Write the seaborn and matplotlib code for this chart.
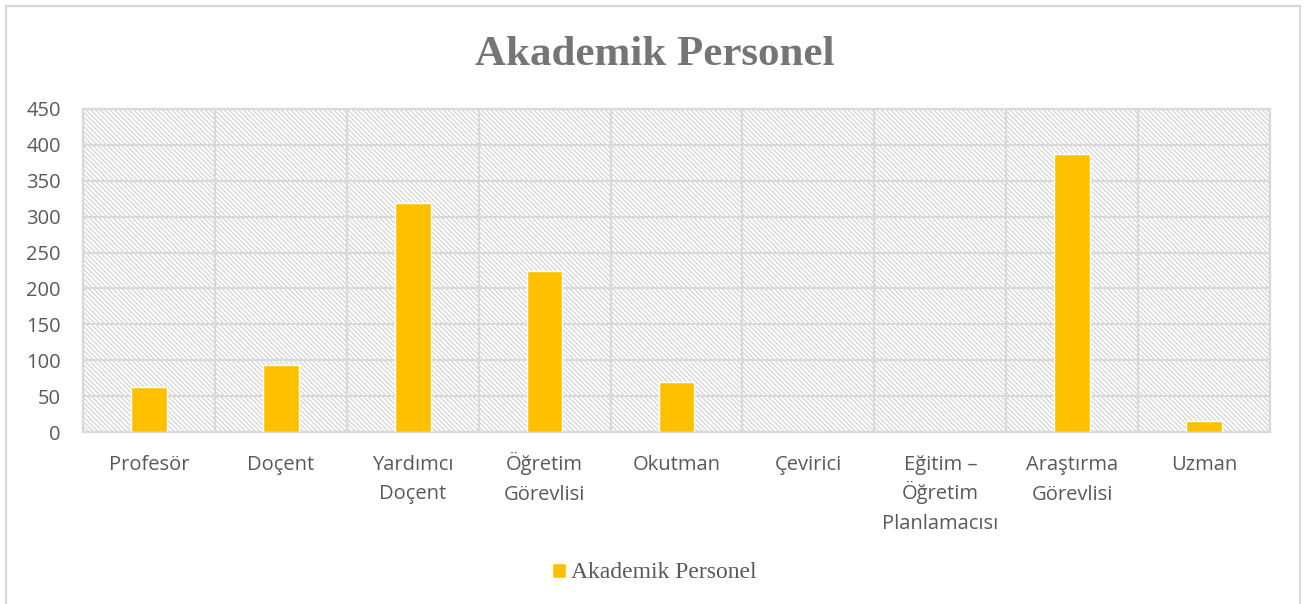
import numpy as np
import pandas as pd
import matplotlib
matplotlib.use('Agg')
import matplotlib.pyplot as plt
import matplotlib.transforms as mtransforms
from matplotlib.patches import Rectangle
import seaborn as sns

# data
categories = ['Profesör', 'Doçent', 'Yardımcı\nDoçent', 'Öğretim\nGörevlisi', 'Okutman',
              'Çevirici', 'Eğitim –\nÖğretim\nPlanlamacısı', 'Araştırma\nGörevlisi', 'Uzman']
values = [63, 93, 319, 225, 70, 0, 0, 387, 16]
yticks = [0, 50, 100, 150, 200, 250, 300, 350, 400, 450]
series_name = 'Akademik Personel'

df = pd.DataFrame({'kategori': categories, 'sayi': values})

sns.set_style('white')
plt.rcParams['font.family'] = ['Open Sans', 'DejaVu Sans']
plt.rcParams['hatch.linewidth'] = 0.9

W, H = 1309, 604
fig = plt.figure(figsize=(W / 100, H / 100), dpi=100)
ax = fig.add_axes([83 / W, 1 - 432 / H, (1270 - 83) / W, (432 - 109) / H])

grey = '#d9d9d9'
text_grey = '#595959'

# hatched plot background
bg = Rectangle((0, 0), 1, 1, transform=ax.transAxes, facecolor='white',
               edgecolor='#d4d4d4', hatch='\\' * 7, linewidth=0, zorder=0)
ax.add_patch(bg)

sns.barplot(data=df, x='kategori', y='sayi', color='#FFC000', width=0.27,
            saturation=1, ax=ax, zorder=3, label=series_name)
handles, labels = ax.get_legend_handles_labels()
if ax.get_legend() is not None:
    ax.get_legend().remove()

ax.set_xlim(-0.5, len(categories) - 0.5)
ax.set_ylim(0, 450)
ax.set_yticks(yticks)
ax.set_xticks(np.arange(-0.5, len(categories)), minor=True)
ax.grid(True, axis='y', which='major', color=grey, linewidth=1.6, zorder=1)
ax.grid(True, axis='x', which='minor', color=grey, linewidth=1.6, zorder=1)
ax.grid(False, axis='x', which='major')
ax.set_axisbelow(True)
for s in ax.spines.values():
    s.set_color(grey)
    s.set_linewidth(1.6)

ax.set_xlabel('')
ax.set_ylabel('')
ax.tick_params(axis='both', which='both', length=0, colors=text_grey)
ax.tick_params(axis='y', pad=16, labelsize=14.5)

# category labels, line by line so the first lines share a baseline
ax.set_xticklabels([])
blend = mtransforms.blended_transform_factory(ax.transData, ax.transAxes)
for i, cat in enumerate(categories):
    for j, line in enumerate(cat.split('\n')):
        tr = mtransforms.offset_copy(blend, fig=fig, y=-(38 + 29.5 * j), units='dots')
        ax.text(i, 0, line, transform=tr, ha='center', va='baseline',
                fontsize=14.5, color=text_grey)

fig.text(0.5, 1 - 55 / H, 'Akademik Personel', ha='center', va='center',
         fontsize=31, fontweight='bold', color='#757575', family='Liberation Serif')

fig.legend(handles[:1], labels[:1], loc='center', bbox_to_anchor=(0.5, 1 - 573 / H),
           frameon=False, prop={'family': 'Liberation Serif', 'size': 17},
           handlelength=0.6, handleheight=0.6, handletextpad=0.2, labelcolor=text_grey)

# outer chart frame
fig.add_artist(Rectangle((6 / W, -0.05), (1300 - 6) / W, 1.05 - 6 / H,
                         transform=fig.transFigure, fill=False,
                         edgecolor=grey, linewidth=1.6))

fig.savefig('out.png', dpi=100)
